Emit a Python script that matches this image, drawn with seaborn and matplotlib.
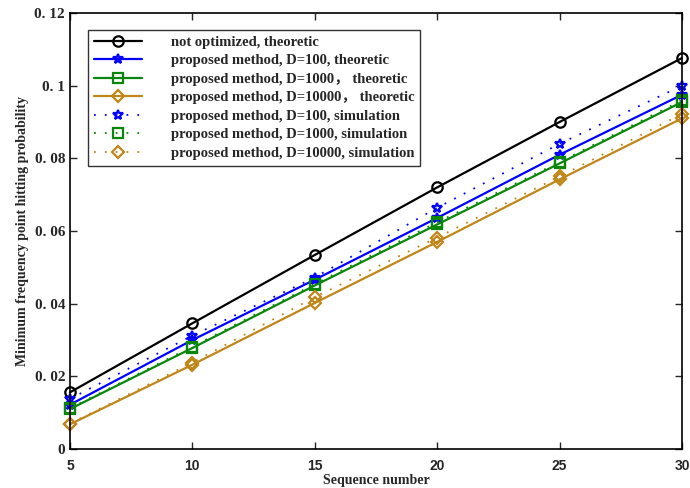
import matplotlib
matplotlib.use("Agg")
import matplotlib.pyplot as plt
import seaborn as sns

# Data
seq = [5, 10, 15, 20, 25, 30]
not_opt_theo = [0.0156, 0.0346, 0.0534, 0.0720, 0.0900, 0.1076]
d100_theo = [0.0122, 0.0300, 0.0466, 0.0636, 0.0810, 0.0975]
d1000_theo = [0.0110, 0.0278, 0.0450, 0.0618, 0.0786, 0.0955]
d10000_theo = [0.0068, 0.0232, 0.0402, 0.0570, 0.0742, 0.0910]
d100_sim = [0.0138, 0.0312, 0.0472, 0.0664, 0.0840, 0.1000]
d1000_sim = [0.0112, 0.0282, 0.0454, 0.0624, 0.0790, 0.0960]
d10000_sim = [0.0070, 0.0238, 0.0418, 0.0582, 0.0750, 0.0922]

labels = [
    "not optimized, theoretic",
    "proposed method, D=100, theoretic",
    "proposed method, D=1000\uff0c theoretic",
    "proposed method, D=10000\uff0c theoretic",
    "proposed method, D=100, simulation",
    "proposed method, D=1000, simulation",
    "proposed method, D=10000, simulation",
]
y_ticks = [0, 0.02, 0.04, 0.06, 0.08, 0.1, 0.12]
y_tick_labels = ["0", "0. 02", "0. 04", "0. 06", "0. 08", "0. 1", "0. 12"]

sns.set_style("ticks")
plt.rcParams["font.family"] = ["Liberation Serif", "Noto Sans CJK SC", "DejaVu Sans"]

fig = plt.figure(figsize=(6.9, 4.88), dpi=100)
ax = fig.add_axes([0.1014, 0.0799, 0.8870, 0.8935])

black = "black"
blue = "#0000ff"
green = "#0a870a"
gold = "#bf861a"
dotted = (0, (1, 5))

series = [
    (not_opt_theo, black, "o", "-"),
    (d100_theo, blue, "*", "-"),
    (d1000_theo, green, "s", "-"),
    (d10000_theo, gold, "D", "-"),
    (d100_sim, blue, "*", dotted),
    (d1000_sim, green, "s", dotted),
    (d10000_sim, gold, "D", dotted),
]

for (vals, col, mk, ls), lab in zip(series, labels):
    sns.lineplot(
        x=seq, y=vals, ax=ax, color=col, marker=mk, linestyle=ls,
        linewidth=1.6 if ls == "-" else 1.3,
        markersize=7.5 if mk != "D" else 6,
        markerfacecolor="none", markeredgecolor=col, markeredgewidth=1.6,
        label=lab, clip_on=False
    )

ax.set_xlim(5, 30)
ax.set_ylim(0, 0.12)
ax.set_xticks(seq)
ax.set_xticklabels([str(s) for s in seq], family="Liberation Sans",
                   fontweight="bold", fontsize=10)
ax.set_yticks(y_ticks)
ax.set_yticklabels(y_tick_labels, family="Liberation Serif",
                   fontweight="bold", fontsize=11)
ax.tick_params(direction="in", top=True, right=True, length=5, width=1)
ax.tick_params(axis="x", pad=7)
for sp in ax.spines.values():
    sp.set_visible(True)
    sp.set_linewidth(1.2)
    sp.set_color("black")

ax.set_xlabel("Sequence number", fontweight="bold", fontsize=10, labelpad=1)
ax.set_ylabel("Minimum frequency point hitting probability",
              fontweight="bold", fontsize=10, labelpad=4)

leg = ax.legend(
    loc="upper left", bbox_to_anchor=(0.029, 0.961), borderaxespad=0,
    frameon=True, fancybox=False, edgecolor="black",
    prop={"weight": "bold", "size": 10.5},
    handlelength=3.3, borderpad=0.4, labelspacing=0.36, handletextpad=2.0
)
leg.get_frame().set_linewidth(1.0)

fig.savefig("out.png", dpi=100)
